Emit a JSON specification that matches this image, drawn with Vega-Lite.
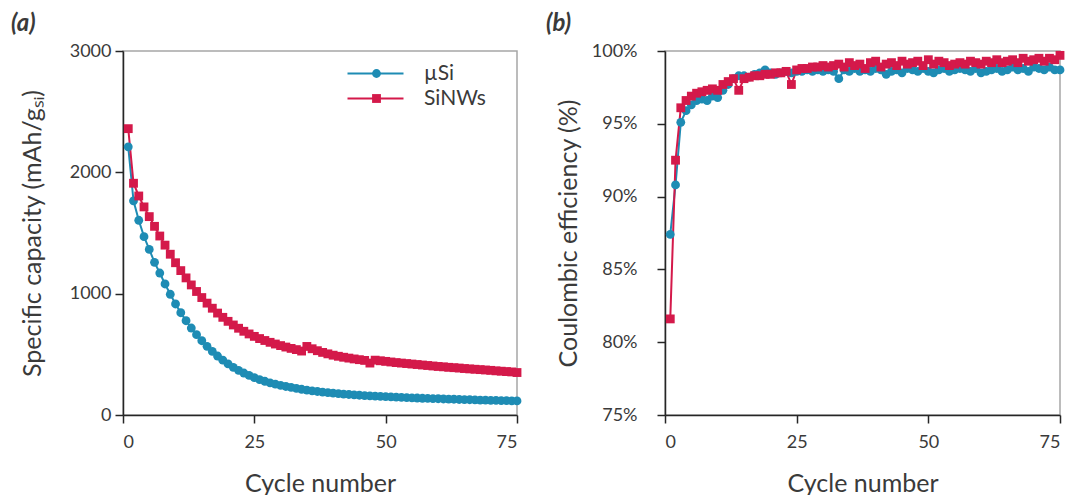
{
"$schema":"https://vega.github.io/schema/vega-lite/v6.json",
"padding":{"left":10,"top":11,"right":5,"bottom":0},
"datasets":{"d":[
{"c":1,"s":"µSi","cap":2210,"ce":87.4},{"c":2,"s":"µSi","cap":1765,"ce":90.8},{"c":3,"s":"µSi","cap":1605,"ce":95.1},{"c":4,"s":"µSi","cap":1470,"ce":95.9},{"c":5,"s":"µSi","cap":1365,"ce":96.3},{"c":6,"s":"µSi","cap":1258,"ce":96.6},{"c":7,"s":"µSi","cap":1170,"ce":96.7},{"c":8,"s":"µSi","cap":1080,"ce":96.6},{"c":9,"s":"µSi","cap":995,"ce":96.9},{"c":10,"s":"µSi","cap":915,"ce":96.8},
{"c":11,"s":"µSi","cap":843,"ce":97.3},{"c":12,"s":"µSi","cap":777,"ce":97.7},{"c":13,"s":"µSi","cap":717,"ce":98.1},{"c":14,"s":"µSi","cap":662,"ce":98.3},{"c":15,"s":"µSi","cap":612,"ce":98.3},{"c":16,"s":"µSi","cap":566,"ce":98.2},{"c":17,"s":"µSi","cap":524,"ce":98.4},{"c":18,"s":"µSi","cap":486,"ce":98.5},{"c":19,"s":"µSi","cap":452,"ce":98.7},{"c":20,"s":"µSi","cap":421,"ce":98.5},
{"c":21,"s":"µSi","cap":393,"ce":98.4},{"c":22,"s":"µSi","cap":368,"ce":98.5},{"c":23,"s":"µSi","cap":346,"ce":98.6},{"c":24,"s":"µSi","cap":326,"ce":98.5},{"c":25,"s":"µSi","cap":308,"ce":98.6},{"c":26,"s":"µSi","cap":292,"ce":98.6},{"c":27,"s":"µSi","cap":278,"ce":98.7},{"c":28,"s":"µSi","cap":265,"ce":98.6},{"c":29,"s":"µSi","cap":254,"ce":98.7},{"c":30,"s":"µSi","cap":244,"ce":98.6},
{"c":31,"s":"µSi","cap":235,"ce":98.7},{"c":32,"s":"µSi","cap":227,"ce":98.6},{"c":33,"s":"µSi","cap":219,"ce":98.1},{"c":34,"s":"µSi","cap":212,"ce":98.7},{"c":35,"s":"µSi","cap":205,"ce":98.6},{"c":36,"s":"µSi","cap":199,"ce":98.8},{"c":37,"s":"µSi","cap":194,"ce":98.6},{"c":38,"s":"µSi","cap":189,"ce":98.7},{"c":39,"s":"µSi","cap":184,"ce":98.6},{"c":40,"s":"µSi","cap":180,"ce":98.8},
{"c":41,"s":"µSi","cap":176,"ce":98.7},{"c":42,"s":"µSi","cap":172,"ce":98.4},{"c":43,"s":"µSi","cap":169,"ce":98.6},{"c":44,"s":"µSi","cap":166,"ce":98.7},{"c":45,"s":"µSi","cap":163,"ce":98.5},{"c":46,"s":"µSi","cap":160,"ce":98.8},{"c":47,"s":"µSi","cap":157,"ce":98.7},{"c":48,"s":"µSi","cap":155,"ce":98.6},{"c":49,"s":"µSi","cap":153,"ce":98.8},{"c":50,"s":"µSi","cap":151,"ce":98.6},
{"c":51,"s":"µSi","cap":149,"ce":98.5},{"c":52,"s":"µSi","cap":147,"ce":98.7},{"c":53,"s":"µSi","cap":145,"ce":98.8},{"c":54,"s":"µSi","cap":143,"ce":98.6},{"c":55,"s":"µSi","cap":141,"ce":98.7},{"c":56,"s":"µSi","cap":140,"ce":98.8},{"c":57,"s":"µSi","cap":138,"ce":98.7},{"c":58,"s":"µSi","cap":137,"ce":98.6},{"c":59,"s":"µSi","cap":135,"ce":98.8},{"c":60,"s":"µSi","cap":134,"ce":98.5},
{"c":61,"s":"µSi","cap":132,"ce":98.6},{"c":62,"s":"µSi","cap":131,"ce":98.7},{"c":63,"s":"µSi","cap":130,"ce":98.8},{"c":64,"s":"µSi","cap":128,"ce":98.6},{"c":65,"s":"µSi","cap":127,"ce":98.7},{"c":66,"s":"µSi","cap":126,"ce":98.9},{"c":67,"s":"µSi","cap":125,"ce":98.7},{"c":68,"s":"µSi","cap":123,"ce":98.8},{"c":69,"s":"µSi","cap":122,"ce":98.6},{"c":70,"s":"µSi","cap":121,"ce":98.9},
{"c":71,"s":"µSi","cap":120,"ce":98.8},{"c":72,"s":"µSi","cap":119,"ce":98.7},{"c":73,"s":"µSi","cap":118,"ce":98.9},{"c":74,"s":"µSi","cap":117,"ce":98.7},{"c":75,"s":"µSi","cap":116,"ce":98.7},
{"c":1,"s":"SiNWs","cap":2360,"ce":81.6},{"c":2,"s":"SiNWs","cap":1910,"ce":92.5},{"c":3,"s":"SiNWs","cap":1805,"ce":96.1},{"c":4,"s":"SiNWs","cap":1715,"ce":96.6},{"c":5,"s":"SiNWs","cap":1635,"ce":96.9},{"c":6,"s":"SiNWs","cap":1555,"ce":97.1},{"c":7,"s":"SiNWs","cap":1475,"ce":97.2},{"c":8,"s":"SiNWs","cap":1400,"ce":97.3},{"c":9,"s":"SiNWs","cap":1325,"ce":97.4},{"c":10,"s":"SiNWs","cap":1255,"ce":97.3},
{"c":11,"s":"SiNWs","cap":1190,"ce":97.7},{"c":12,"s":"SiNWs","cap":1130,"ce":97.9},{"c":13,"s":"SiNWs","cap":1072,"ce":98.1},{"c":14,"s":"SiNWs","cap":1018,"ce":97.3},{"c":15,"s":"SiNWs","cap":968,"ce":98.1},{"c":16,"s":"SiNWs","cap":922,"ce":98.2},{"c":17,"s":"SiNWs","cap":880,"ce":98.3},{"c":18,"s":"SiNWs","cap":840,"ce":98.3},{"c":19,"s":"SiNWs","cap":805,"ce":98.4},{"c":20,"s":"SiNWs","cap":772,"ce":98.4},
{"c":21,"s":"SiNWs","cap":742,"ce":98.5},{"c":22,"s":"SiNWs","cap":715,"ce":98.5},{"c":23,"s":"SiNWs","cap":690,"ce":98.6},{"c":24,"s":"SiNWs","cap":668,"ce":97.7},{"c":25,"s":"SiNWs","cap":648,"ce":98.7},{"c":26,"s":"SiNWs","cap":630,"ce":98.8},{"c":27,"s":"SiNWs","cap":614,"ce":98.8},{"c":28,"s":"SiNWs","cap":599,"ce":98.9},{"c":29,"s":"SiNWs","cap":585,"ce":98.9},{"c":30,"s":"SiNWs","cap":572,"ce":99.0},
{"c":31,"s":"SiNWs","cap":560,"ce":98.9},{"c":32,"s":"SiNWs","cap":549,"ce":99.0},{"c":33,"s":"SiNWs","cap":539,"ce":99.1},{"c":34,"s":"SiNWs","cap":527,"ce":98.9},{"c":35,"s":"SiNWs","cap":565,"ce":99.2},{"c":36,"s":"SiNWs","cap":546,"ce":99.0},{"c":37,"s":"SiNWs","cap":530,"ce":99.1},{"c":38,"s":"SiNWs","cap":516,"ce":98.8},{"c":39,"s":"SiNWs","cap":504,"ce":99.2},{"c":40,"s":"SiNWs","cap":493,"ce":99.3},
{"c":41,"s":"SiNWs","cap":484,"ce":98.9},{"c":42,"s":"SiNWs","cap":476,"ce":99.1},{"c":43,"s":"SiNWs","cap":469,"ce":99.2},{"c":44,"s":"SiNWs","cap":462,"ce":99.0},{"c":45,"s":"SiNWs","cap":456,"ce":99.3},{"c":46,"s":"SiNWs","cap":450,"ce":99.1},{"c":47,"s":"SiNWs","cap":428,"ce":99.2},{"c":48,"s":"SiNWs","cap":452,"ce":99.3},{"c":49,"s":"SiNWs","cap":447,"ce":99.0},{"c":50,"s":"SiNWs","cap":442,"ce":99.4},
{"c":51,"s":"SiNWs","cap":437,"ce":99.1},{"c":52,"s":"SiNWs","cap":432,"ce":99.3},{"c":53,"s":"SiNWs","cap":428,"ce":99.2},{"c":54,"s":"SiNWs","cap":424,"ce":99.0},{"c":55,"s":"SiNWs","cap":420,"ce":99.1},{"c":56,"s":"SiNWs","cap":416,"ce":99.2},{"c":57,"s":"SiNWs","cap":412,"ce":99.1},{"c":58,"s":"SiNWs","cap":408,"ce":99.3},{"c":59,"s":"SiNWs","cap":404,"ce":99.2},{"c":60,"s":"SiNWs","cap":400,"ce":99.1},
{"c":61,"s":"SiNWs","cap":397,"ce":99.3},{"c":62,"s":"SiNWs","cap":393,"ce":99.2},{"c":63,"s":"SiNWs","cap":390,"ce":99.4},{"c":64,"s":"SiNWs","cap":387,"ce":99.2},{"c":65,"s":"SiNWs","cap":383,"ce":99.3},{"c":66,"s":"SiNWs","cap":380,"ce":99.4},{"c":67,"s":"SiNWs","cap":377,"ce":99.2},{"c":68,"s":"SiNWs","cap":374,"ce":99.5},{"c":69,"s":"SiNWs","cap":371,"ce":99.3},{"c":70,"s":"SiNWs","cap":368,"ce":99.4},
{"c":71,"s":"SiNWs","cap":364,"ce":99.5},{"c":72,"s":"SiNWs","cap":361,"ce":99.3},{"c":73,"s":"SiNWs","cap":358,"ce":99.5},{"c":74,"s":"SiNWs","cap":355,"ce":99.4},{"c":75,"s":"SiNWs","cap":350,"ce":99.7}
]},
"data":{"name":"d"},
"config":{
 "font":"Lato",
 "view":{"stroke":"#a6a6a6","strokeWidth":1.5},
 "axis":{"grid":false,"domainColor":"#262626","domainWidth":1.5,"tickColor":"#262626","tickWidth":1.5,"tickSize":8,"labelFont":"Lato","labelFontSize":18,"labelColor":"#3a3a3a","titleFont":"Lato","titleFontSize":25,"titleFontWeight":"normal","titleColor":"#3a3a3a"},
 "title":{"font":"Lato","fontSize":24,"fontWeight":"bold","fontStyle":"italic","color":"#3a3a3a","anchor":"start","frame":"group"}
},
"spacing":22,
"hconcat":[
 {
  "width":394,"height":364,
  "title":{"text":"(a)","dx":-112,"offset":6},
  "resolve":{"scale":{"color":"independent","shape":"independent"}},
  "layer":[
   {"mark":{"type":"line","strokeWidth":2},
    "encoding":{
     "x":{"field":"c","type":"quantitative","scale":{"domain":[0,75],"nice":false},"axis":{"values":[0,25,50,75],"title":"Cycle number","labelPadding":10,"titlePadding":20}},
     "y":{"field":"cap","type":"quantitative","scale":{"domain":[0,3000],"nice":false},"axis":{"values":[0,1000,2000,3000],"format":"d","title":"Specific capacity (mAh/gₛᵢ)","labelPadding":4,"titlePadding":24}},
     "color":{"field":"s","type":"nominal","scale":{"domain":["µSi","SiNWs"],"range":["#1e8cb4","#d4194a"]},
      "legend":{"orient":"none","legendX":242,"legendY":12,"title":null,"labelFont":"Lato","labelFontSize":21,"labelColor":"#3a3a3a","symbolType":"M-5.6,0H5.6","symbolSize":100,"symbolStrokeWidth":2,"labelOffset":38,"rowPadding":3}}}},
   {"mark":{"type":"point","filled":true,"size":78,"opacity":1},
    "encoding":{
     "x":{"field":"c","type":"quantitative"},
     "y":{"field":"cap","type":"quantitative"},
     "shape":{"field":"s","type":"nominal","scale":{"domain":["µSi","SiNWs"],"range":["circle","square"]},
      "legend":{"orient":"none","legendX":243,"legendY":12,"title":null,"labelFont":"Lato","labelFontSize":21,"labelOpacity":0,"symbolSize":78,"symbolOpacity":1,"labelOffset":37,"rowPadding":3}},
     "color":{"field":"s","type":"nominal","scale":{"domain":["µSi","SiNWs"],"range":["#1e8cb4","#d4194a"]},
      "legend":{"orient":"none","legendX":243,"legendY":12,"title":null,"labelFont":"Lato","labelFontSize":21,"labelOpacity":0,"symbolSize":78,"symbolOpacity":1,"labelOffset":37,"rowPadding":3}}}}
  ]
 },
 {
  "width":395,"height":364,
  "title":{"text":"(b)","dx":-119,"offset":6},
  "layer":[
   {"mark":{"type":"line","strokeWidth":2},
    "encoding":{
     "x":{"field":"c","type":"quantitative","scale":{"domain":[0,75],"nice":false},"axis":{"values":[0,25,50,75],"title":"Cycle number","labelPadding":10,"titlePadding":20}},
     "y":{"field":"ce","type":"quantitative","scale":{"domain":[75,100],"nice":false},"axis":{"values":[75,80,85,90,95,100],"labelExpr":"datum.value + '%'","title":"Coulombic efficiency (%)","labelPadding":20,"titlePadding":10}},
     "color":{"field":"s","type":"nominal","scale":{"domain":["µSi","SiNWs"],"range":["#1e8cb4","#d4194a"]},"legend":null}}},
   {"mark":{"type":"point","filled":true,"size":78,"opacity":1},
    "encoding":{
     "x":{"field":"c","type":"quantitative"},
     "y":{"field":"ce","type":"quantitative"},
     "shape":{"field":"s","type":"nominal","scale":{"domain":["µSi","SiNWs"],"range":["circle","square"]},"legend":null},
     "color":{"field":"s","type":"nominal","scale":{"domain":["µSi","SiNWs"],"range":["#1e8cb4","#d4194a"]},"legend":null}}}
  ]
 }
]
}
